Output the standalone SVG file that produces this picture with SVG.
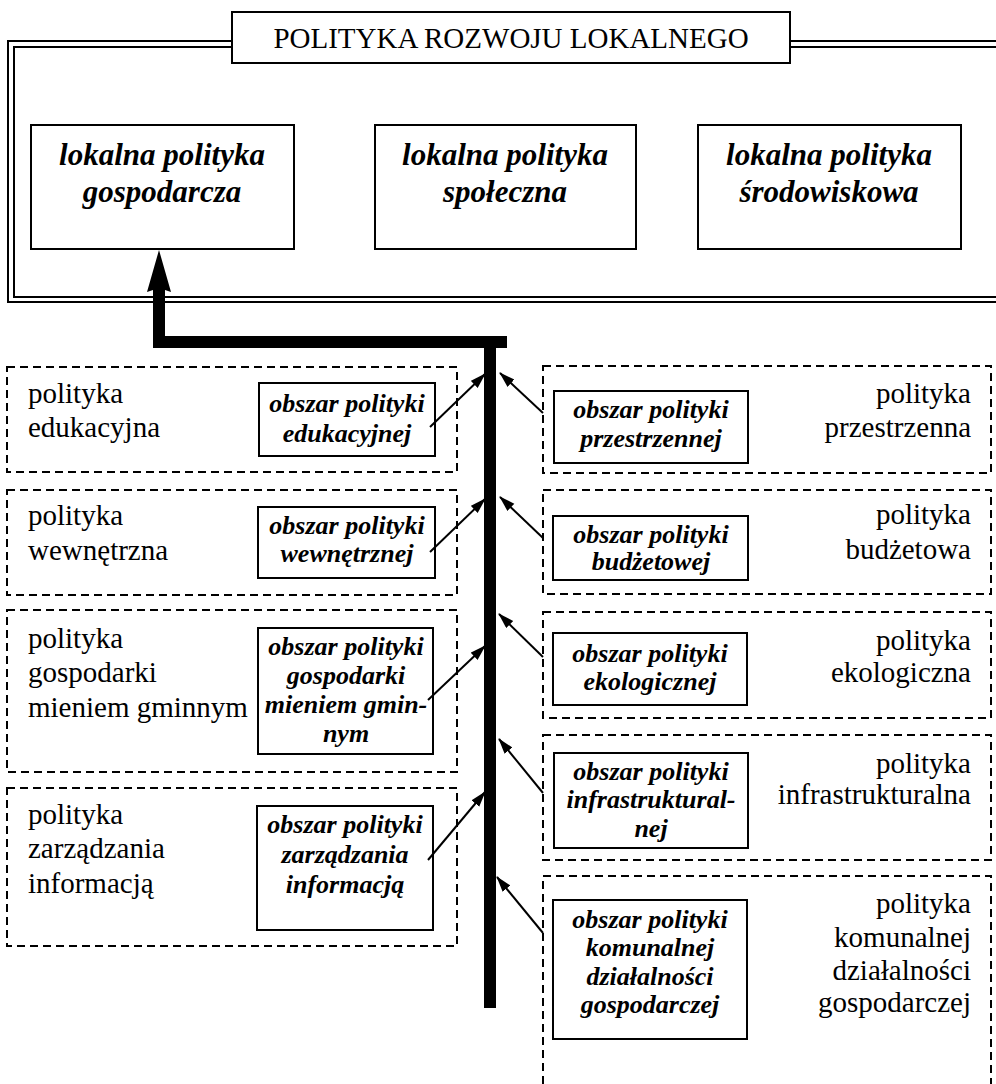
<svg xmlns="http://www.w3.org/2000/svg" width="996" height="1084" viewBox="0 0 996 1084">
<defs>
<style>
.frame{fill:none;stroke:#000;stroke-width:2}
.box{fill:#fff;stroke:#000;stroke-width:2}
.dash{fill:none;stroke:#000;stroke-width:2;stroke-dasharray:8 5}
.title{font-family:"Liberation Serif",serif;font-size:29px;fill:#000;text-anchor:middle}
.big{font-family:"Liberation Serif",serif;font-size:31px;font-weight:bold;font-style:italic;fill:#000;text-anchor:middle}
.reg{font-family:"Liberation Serif",serif;font-size:29px;fill:#000}
.regr{font-family:"Liberation Serif",serif;font-size:29px;fill:#000;text-anchor:end}
.obs{font-family:"Liberation Serif",serif;font-size:26px;font-weight:bold;font-style:italic;fill:#000;text-anchor:middle}
.thin{fill:none;stroke:#000;stroke-width:2;marker-end:url(#ah)}
</style>
<marker id="ah" markerUnits="userSpaceOnUse" markerWidth="16" markerHeight="12" refX="15" refY="5" orient="auto">
<path d="M0,0 L16,5 L0,10 Z" fill="#000"/>
</marker>
</defs>

<g id="frame">
<path class="frame" d="M232,41 H8 V302 H1000 M790,41 H1000"/>
<path class="frame" d="M232,47 H14 V297 H1000 M790,47 H1000"/>
</g>

<g id="title">
<rect class="box" x="232" y="12" width="558" height="51"/>
<text class="title" x="511" y="48">POLITYKA ROZWOJU LOKALNEGO</text>
</g>

<g id="lp-gospodarcza">
<rect class="box" x="31" y="125" width="263" height="124"/>
<text class="big" x="162" y="165">lokalna polityka</text>
<text class="big" x="162" y="202">gospodarcza</text>
</g>
<g id="lp-spoleczna">
<rect class="box" x="375" y="125" width="261" height="124"/>
<text class="big" x="505" y="165">lokalna polityka</text>
<text class="big" x="505" y="202">społeczna</text>
</g>
<g id="lp-srodowiskowa">
<rect class="box" x="698" y="125" width="263" height="124"/>
<text class="big" x="829" y="165">lokalna polityka</text>
<text class="big" x="829" y="202">środowiskowa</text>
</g>

<!-- left -->
<g id="edukacyjna">
<rect class="dash" x="7" y="367" width="450" height="105"/>
<text class="reg" x="28" y="403">polityka</text>
<text class="reg" x="28" y="437">edukacyjna</text>
<rect class="box" x="259" y="383" width="176" height="73"/>
<text class="obs" x="347" y="412">obszar polityki</text>
<text class="obs" x="347" y="442">edukacyjnej</text>
</g>
<g id="wewnetrzna">
<rect class="dash" x="7" y="490" width="450" height="105"/>
<text class="reg" x="28" y="525">polityka</text>
<text class="reg" x="28" y="560">wewnętrzna</text>
<rect class="box" x="258" y="507" width="177" height="71"/>
<text class="obs" x="347" y="534">obszar polityki</text>
<text class="obs" x="347" y="562">wewnętrznej</text>
</g>
<g id="mienie">
<rect class="dash" x="7" y="610" width="450" height="162"/>
<text class="reg" x="28" y="648">polityka</text>
<text class="reg" x="28" y="682">gospodarki</text>
<text class="reg" x="28" y="717">mieniem gminnym</text>
<rect class="box" x="258" y="628" width="175" height="126"/>
<text class="obs" x="346" y="655">obszar polityki</text>
<text class="obs" x="346" y="684">gospodarki</text>
<text class="obs" x="346" y="713">mieniem gmin-</text>
<text class="obs" x="346" y="742">nym</text>
</g>
<g id="informacja">
<rect class="dash" x="7" y="788" width="450" height="158"/>
<text class="reg" x="28" y="824">polityka</text>
<text class="reg" x="28" y="858">zarządzania</text>
<text class="reg" x="28" y="893">informacją</text>
<rect class="box" x="257" y="806" width="176" height="124"/>
<text class="obs" x="345" y="833">obszar polityki</text>
<text class="obs" x="345" y="863">zarządzania</text>
<text class="obs" x="345" y="893">informacją</text>
</g>

<!-- right -->
<g id="przestrzenna">
<rect class="dash" x="543" y="366" width="448" height="107"/>
<text class="regr" x="971" y="403">polityka</text>
<text class="regr" x="971" y="437">przestrzenna</text>
<rect class="box" x="554" y="391" width="194" height="72"/>
<text class="obs" x="651" y="418">obszar polityki</text>
<text class="obs" x="651" y="447">przestrzennej</text>
</g>
<g id="budzetowa">
<rect class="dash" x="543" y="490" width="448" height="104"/>
<text class="regr" x="971" y="524">polityka</text>
<text class="regr" x="971" y="559">budżetowa</text>
<rect class="box" x="553" y="516" width="195" height="64"/>
<text class="obs" x="651" y="543">obszar polityki</text>
<text class="obs" x="651" y="570">budżetowej</text>
</g>
<g id="ekologiczna">
<rect class="dash" x="543" y="612" width="448" height="106"/>
<text class="regr" x="971" y="650">polityka</text>
<text class="regr" x="971" y="682">ekologiczna</text>
<rect class="box" x="553" y="633" width="194" height="72"/>
<text class="obs" x="650" y="662">obszar polityki</text>
<text class="obs" x="650" y="690">ekologicznej</text>
</g>
<g id="infrastrukturalna">
<rect class="dash" x="543" y="735" width="448" height="125"/>
<text class="regr" x="971" y="773">polityka</text>
<text class="regr" x="971" y="804">infrastrukturalna</text>
<rect class="box" x="554" y="753" width="194" height="95"/>
<text class="obs" x="651" y="780">obszar polityki</text>
<text class="obs" x="651" y="808">infrastruktural-</text>
<text class="obs" x="651" y="837">nej</text>
</g>
<g id="komunalna">
<path class="dash" d="M543,1084 V876 H991 V1084"/>
<text class="regr" x="971" y="913">polityka</text>
<text class="regr" x="971" y="947">komunalnej</text>
<text class="regr" x="971" y="980">działalności</text>
<text class="regr" x="971" y="1012">gospodarczej</text>
<rect class="box" x="553" y="900" width="194" height="139"/>
<text class="obs" x="650" y="928">obszar polityki</text>
<text class="obs" x="650" y="956">komunalnej</text>
<text class="obs" x="650" y="985">działalności</text>
<text class="obs" x="650" y="1013">gospodarczej</text>
</g>

<g id="connectors">
<rect x="484" y="336" width="12" height="672" fill="#000"/>
<rect x="153" y="336" width="354" height="12" fill="#000"/>
<rect x="153" y="288" width="12" height="60" fill="#000"/>
<polygon points="159,250 171,292 159,288 147,292" fill="#000"/>
<line class="thin" x1="430" y1="427" x2="485" y2="374"/>
<line class="thin" x1="430" y1="552" x2="485" y2="499"/>
<line class="thin" x1="428" y1="700" x2="485" y2="646"/>
<line class="thin" x1="428" y1="860" x2="485" y2="792"/>
<line class="thin" x1="543" y1="413" x2="500" y2="373"/>
<line class="thin" x1="543" y1="538" x2="500" y2="497"/>
<line class="thin" x1="543" y1="657" x2="499" y2="614"/>
<line class="thin" x1="543" y1="793" x2="499" y2="739"/>
<line class="thin" x1="543" y1="933" x2="497" y2="877"/>
</g>
</svg>
